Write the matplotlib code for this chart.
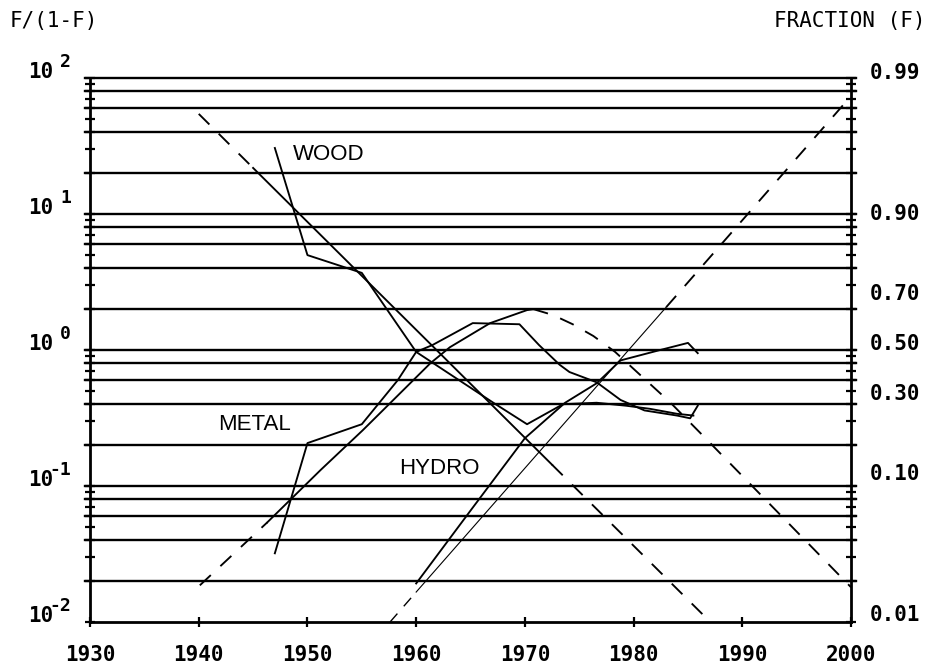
import numpy as np
import matplotlib.pyplot as plt
from matplotlib.ticker import LogLocator, NullFormatter, FixedLocator
from matplotlib.transforms import offset_copy

# observed shares, plotted as F/(1-F)
wood_years = [1947.0, 1950.0, 1955.0, 1960.0, 1967.1, 1970.2, 1973.5, 1976.6, 1979.3, 1981.5, 1984.0, 1985.5]
wood_vals = [30.7, 5.0, 3.7, 0.97, 0.41, 0.285, 0.40, 0.41, 0.39, 0.37, 0.34, 0.33]

metal_years = [1947.0, 1950.0, 1955.0, 1958.3, 1960.0, 1961.5, 1965.2, 1969.5, 1971.3, 1973.2,
               1974.1, 1976.6, 1978.8, 1981.0, 1984.0, 1985.2, 1985.9]
metal_vals = [0.032, 0.207, 0.285, 0.60, 0.97, 1.09, 1.58, 1.55, 1.09, 0.78,
              0.69, 0.58, 0.43, 0.36, 0.33, 0.315, 0.39]

hydro_years = [1960.0, 1965.0, 1970.0, 1973.7, 1976.6, 1978.8, 1982.4, 1985.0, 1985.9]
hydro_vals = [0.0192, 0.066, 0.225, 0.41, 0.57, 0.84, 1.0, 1.13, 0.95]

# fitted substitution curves (solid inside fit period, dashed outside)
wood_fit_years = [1940.0, 1945.0, 1972.5, 1987.0]
wood_fit_vals = [54.7, 21.9, 0.1435, 0.0101]

metal_fit_years = [1940.1, 1946.3, 1951.2, 1955.1, 1957.6, 1961.3, 1963.1, 1966.8, 1970.2, 1970.8,
                   1972.6, 1974.4, 1976.3, 1978.3, 1980.4, 1983.4, 1986.8, 2000.0]
metal_fit_vals = [0.0186, 0.054, 0.131, 0.258, 0.407, 0.80, 1.05, 1.58, 1.97, 2.00,
                  1.81, 1.55, 1.27, 0.97, 0.68, 0.41, 0.217, 0.018]

hydro_fit_years = [1957.6, 1960.0, 1983.0, 2000.0]
hydro_fit_vals = [0.01, 0.0166, 2.07, 74.0]

grid_levels = [0.02, 0.04, 0.06, 0.08, 0.1, 0.2, 0.4, 0.6, 0.8, 1, 2, 4, 6, 8,
               10, 20, 40, 60, 80, 100]
decade_exps = [2, 1, 0, -1, -2]
frac_labels = [0.99, 0.90, 0.70, 0.50, 0.30, 0.10, 0.01]
year_ticks = [1930, 1940, 1950, 1960, 1970, 1980, 1990, 2000]

mono = 'DejaVu Sans Mono'
dash = (0, (8, 7))
lw = 1.35

fig = plt.figure(figsize=(9.31, 6.69), dpi=100)
ax = fig.add_axes([0.0967, 0.0703, 0.8174, 0.8127])
ax.set_yscale('log')
ax.set_xlim(1930, 2000)
ax.set_ylim(0.01, 100)

# horizontal rules, running a bit past both spines
ytr = ax.get_yaxis_transform()
for g in grid_levels:
    ax.plot([-0.006, 1.006], [g, g], transform=ytr, color='k', lw=1.7, clip_on=False, zorder=1)

# data
for yrs, vals in [(wood_years, wood_vals), (metal_years, metal_vals), (hydro_years, hydro_vals)]:
    ax.plot(yrs, vals, color='k', lw=lw, zorder=3)

# fits
ax.plot(wood_fit_years[:2], wood_fit_vals[:2], color='k', lw=lw, ls=dash)
ax.plot(wood_fit_years[1:3], wood_fit_vals[1:3], color='k', lw=lw)
ax.plot(wood_fit_years[2:], wood_fit_vals[2:], color='k', lw=lw, ls=dash)

ax.plot(metal_fit_years[:2], metal_fit_vals[:2], color='k', lw=lw, ls=dash)
ax.plot(metal_fit_years[1:10], metal_fit_vals[1:10], color='k', lw=lw)
ax.plot(metal_fit_years[9:], metal_fit_vals[9:], color='k', lw=lw, ls=dash)

ax.plot(hydro_fit_years[:2], hydro_fit_vals[:2], color='k', lw=1.0, ls=dash)
ax.plot(hydro_fit_years[1:3], hydro_fit_vals[1:3], color='k', lw=0.8)
ax.plot(hydro_fit_years[2:], hydro_fit_vals[2:], color='k', lw=lw, ls=dash)

# curve names
ax.text(1952.0, 27.3, 'WOOD', fontsize=16, fontfamily='Liberation Sans', ha='center', va='center')
ax.text(1945.1, 0.285, 'METAL', fontsize=16, fontfamily='Liberation Sans', ha='center', va='center')
ax.text(1962.1, 0.135, 'HYDRO', fontsize=16, fontfamily='Liberation Sans', ha='center', va='center')

# axes frame and ticks
ax.spines['top'].set_visible(False)
for s in ['left', 'right', 'bottom']:
    ax.spines[s].set_linewidth(2)
ax.yaxis.set_major_locator(LogLocator(base=10, numticks=10))
ax.yaxis.set_minor_locator(LogLocator(base=10, subs=np.arange(2, 10), numticks=20))
ax.yaxis.set_major_formatter(NullFormatter())
ax.yaxis.set_minor_formatter(NullFormatter())
ax.tick_params(axis='y', which='both', direction='inout', length=7, width=1.6,
               left=True, right=True, labelleft=False)
ax.xaxis.set_major_locator(FixedLocator(year_ticks))
ax.tick_params(axis='x', which='major', direction='inout', length=7, width=1.6, pad=13)
ax.set_xticklabels([str(y) for y in year_ticks], fontfamily=mono, fontsize=15, fontweight='bold')

# left decade labels
for e in decade_exps:
    ax.text(-0.0486, 10.0 ** e, '10', transform=ytr, ha='right', va='baseline',
            fontfamily=mono, fontsize=15, fontweight='bold')
    sup = offset_copy(ytr, fig=fig, x=0, y=8, units='points')
    ax.text(-0.0250, 10.0 ** e, str(e), transform=sup, ha='right', va='baseline',
            fontfamily=mono, fontsize=13, fontweight='bold')

# right fraction labels
for f in frac_labels:
    ax.text(1.025, f / (1 - f), f'{f:.2f}', transform=ytr, ha='left', va='baseline',
            fontfamily=mono, fontsize=15, fontweight='bold')

fig.text(10 / 931, 1 - 27 / 669, 'F/(1-F)', ha='left', va='baseline', fontfamily=mono, fontsize=15)
fig.text(925 / 931, 1 - 27 / 669, 'FRACTION (F)', ha='right', va='baseline', fontfamily=mono, fontsize=15)

fig.savefig('out.png', dpi=100)
